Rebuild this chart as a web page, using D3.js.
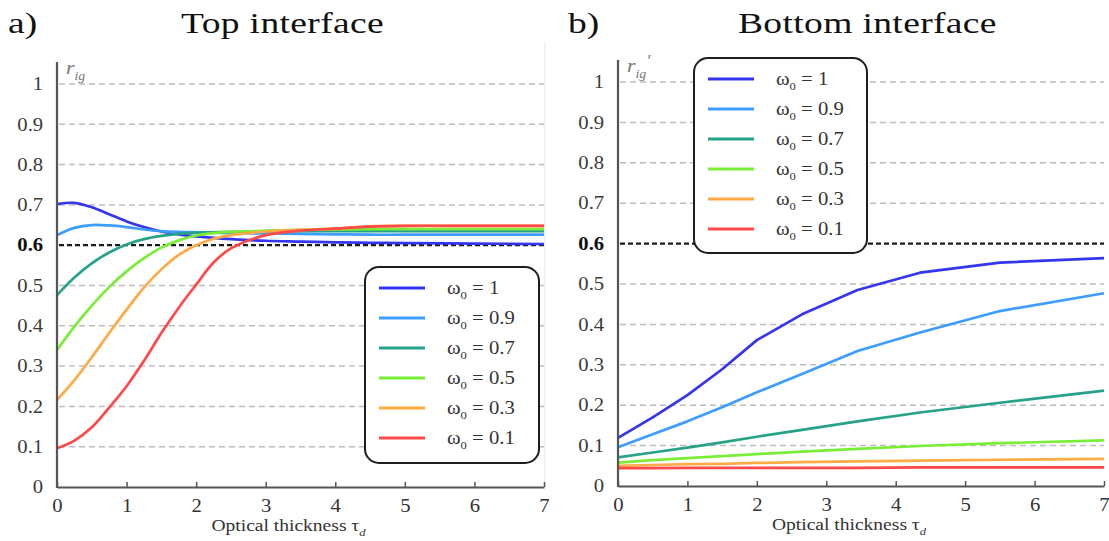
<!DOCTYPE html>
<html><head><meta charset="utf-8">
<script src="https://cdn.jsdelivr.net/npm/d3@7"></script>
<style>
body{margin:0;background:#fff}
svg{display:block}
text{font-family:"Liberation Serif","Times New Roman",serif}
</style>
</head><body>
<svg id="c" width="1109" height="541"></svg>
<script>
// ---------- DATA ----------
const seriesLabels = ["1", "0.9", "0.7", "0.5", "0.3", "0.1"];
const seriesColors = ["#3535ef", "#3d9dff", "#27a28a", "#7aee36", "#ffaa44", "#ff4848"];

const yTicks = [0, 0.1, 0.2, 0.3, 0.4, 0.5, 0.6, 0.7, 0.8, 0.9, 1];
const xTicks = [0, 1, 2, 3, 4, 5, 6, 7];

// a) Top interface
const tauTop = [0, 0.25, 0.5, 0.75, 1, 1.25, 1.5, 1.75, 2, 2.25, 2.5, 3, 3.5, 4, 4.5, 5, 6, 7];
const topW10 = [0.702, 0.705, 0.694, 0.677, 0.659, 0.645, 0.634, 0.627, 0.622, 0.618, 0.615, 0.611, 0.609, 0.607, 0.606, 0.605, 0.604, 0.603];
const topW09 = [0.625, 0.643, 0.650, 0.649, 0.645, 0.639, 0.635, 0.633, 0.632, 0.631, 0.630, 0.629, 0.628, 0.627, 0.626, 0.626, 0.626, 0.626];
const topW07 = [0.476, 0.520, 0.555, 0.582, 0.602, 0.615, 0.623, 0.628, 0.631, 0.632, 0.633, 0.634, 0.635, 0.635, 0.635, 0.635, 0.635, 0.635];
const topW05 = [0.340, 0.398, 0.450, 0.496, 0.535, 0.568, 0.594, 0.612, 0.624, 0.630, 0.633, 0.636, 0.638, 0.639, 0.640, 0.640, 0.640, 0.640];
const topW03 = [0.216, 0.265, 0.322, 0.382, 0.440, 0.495, 0.540, 0.576, 0.600, 0.616, 0.625, 0.634, 0.638, 0.641, 0.647, 0.648, 0.648, 0.648];
const topW01 = [0.096, 0.115, 0.148, 0.197, 0.250, 0.313, 0.382, 0.445, 0.502, 0.557, 0.592, 0.625, 0.636, 0.641, 0.646, 0.648, 0.648, 0.648];

// b) Bottom interface
const tauBottom = [0, 0.5, 1, 1.5, 2, 2.65, 3.45, 4.35, 5.5, 7];
const botW10 = [0.119, 0.170, 0.225, 0.289, 0.361, 0.425, 0.485, 0.528, 0.553, 0.564];
const botW09 = [0.096, 0.128, 0.160, 0.195, 0.232, 0.277, 0.334, 0.380, 0.433, 0.477];
const botW07 = [0.071, 0.083, 0.095, 0.108, 0.122, 0.139, 0.160, 0.182, 0.206, 0.236];
const botW05 = [0.058, 0.064, 0.069, 0.074, 0.079, 0.085, 0.092, 0.099, 0.106, 0.113];
const botW03 = [0.050, 0.052, 0.054, 0.055, 0.057, 0.059, 0.061, 0.063, 0.065, 0.067];
const botW01 = [0.044, 0.044, 0.045, 0.045, 0.045, 0.045, 0.045, 0.046, 0.046, 0.046];

// ---------- DRAW ----------
const svg = d3.select("#c");
svg.append("rect").attr("width", 1109).attr("height", 541).attr("fill", "#fff");

const SX = 1.15;   // horizontal stretch of small text
const TSX = 1.25;  // horizontal stretch of titles

function drawPanel(cfg) {
  const x = d3.scaleLinear().domain([0, 7]).range([cfg.left, cfg.right]);
  const y = d3.scaleLinear().domain([0, 1]).range([cfg.bottom, cfg.top1]);
  const g = svg.append("g");

  // grid lines
  g.selectAll("line.grid").data(yTicks.filter(d => d > 0)).join("line")
    .attr("x1", x(0) + 2).attr("x2", x(7))
    .attr("y1", d => y(d)).attr("y2", d => y(d))
    .attr("stroke", d => Math.abs(d - 0.6) < 1e-9 ? "#1a1a1a" : "#bdbdbd")
    .attr("stroke-width", d => Math.abs(d - 0.6) < 1e-9 ? 2.2 : 1.5)
    .attr("stroke-dasharray", d => Math.abs(d - 0.6) < 1e-9 ? "5,3" : "6,4");

  if (cfg.rightBorder) {
    g.append("line").attr("x1", x(7) + 1).attr("x2", x(7) + 1)
      .attr("y1", y(0)).attr("y2", cfg.axisTop - 20)
      .attr("stroke", "#eeeeee").attr("stroke-width", 1.5);
  }

  // curves
  const line = d3.line().x(d => x(d[0])).y(d => y(d[1])).curve(cfg.curve);
  cfg.series.forEach((vals, i) => {
    const pts = cfg.tau.map((t, j) => [t, vals[j]]);
    g.append("path").datum(pts).attr("d", line)
      .attr("fill", "none").attr("stroke", seriesColors[i])
      .attr("stroke-width", 2.7).attr("stroke-linejoin", "round");
  });

  // legend
  const L = cfg.legend;
  g.append("rect").attr("x", L.x).attr("y", L.y).attr("width", L.w).attr("height", L.h)
    .attr("rx", 14).attr("ry", 14).attr("fill", "#fff")
    .attr("stroke", "#1e1e1e").attr("stroke-width", 2);
  seriesLabels.forEach((lab, i) => {
    const ly = L.y + 21 + i * 30;
    g.append("line").attr("x1", L.x + 14).attr("x2", L.x + 60)
      .attr("y1", ly).attr("y2", ly)
      .attr("stroke", seriesColors[i]).attr("stroke-width", 3);
    const t = g.append("text")
      .attr("transform", `translate(${L.x + 82},${ly + 6}) scale(${SX},1)`)
      .attr("font-size", 18).attr("fill", "#333");
    t.append("tspan").text("ω");
    t.append("tspan").attr("dy", 5).attr("font-size", 11).text("0");
    t.append("tspan").attr("dy", -5).text(" = " + lab);
  });

  // x axis
  const xa = g.append("g").attr("transform", `translate(0,${y(0)})`)
    .call(d3.axisBottom(x).tickValues(xTicks).tickSizeInner(-5).tickSizeOuter(0)
      .tickPadding(12).tickFormat(d3.format("d")));
  xa.select(".domain").attr("stroke", "#555").attr("stroke-width", 2.2);
  xa.selectAll(".tick line").attr("stroke", "#555").attr("stroke-width", 1.5);
  xa.selectAll(".tick text").attr("font-size", 18).attr("fill", "#333")
    .attr("font-family", "Liberation Serif").attr("transform", `scale(${SX},1)`);

  // y axis
  const ya = g.append("g").attr("transform", `translate(${x(0)},0)`)
    .call(d3.axisLeft(y).tickValues(yTicks).tickSize(0).tickPadding(12)
      .tickFormat(d3.format("~g")));
  ya.select(".domain").remove();
  ya.selectAll(".tick text").attr("font-size", 18)
    .attr("font-family", "Liberation Serif")
    .attr("fill", d => Math.abs(d - 0.6) < 1e-9 ? "#111" : "#3a3a3a")
    .attr("font-weight", d => Math.abs(d - 0.6) < 1e-9 ? "bold" : "normal")
    .attr("transform", `scale(${SX},1)`);
  g.append("line").attr("x1", x(0)).attr("x2", x(0))
    .attr("y1", y(0) + 1).attr("y2", cfg.axisTop)
    .attr("stroke", "#555").attr("stroke-width", 2.2);

  // y label
  const yl = g.append("text")
    .attr("transform", `translate(${x(0) + 9},${cfg.axisTop + 12}) scale(${SX},1)`)
    .attr("font-size", 19).attr("font-style", "italic").attr("fill", "#777");
  yl.append("tspan").text("r");
  yl.append("tspan").attr("dy", 6).attr("font-size", 12).text("ig");
  if (cfg.prime) yl.append("tspan").attr("dy", -12).attr("font-size", 16).text("′");

  // x label
  const xl = g.append("text")
    .attr("transform", `translate(${(x(0) + x(7)) / 2 - 12},${y(0) + 44}) scale(${SX},1)`)
    .attr("text-anchor", "middle").attr("font-size", 17).attr("fill", "#333");
  xl.append("tspan").text("Optical thickness τ");
  xl.append("tspan").attr("dy", 5).attr("font-size", 11).attr("font-style", "italic").text("d");

  // titles
  svg.append("text").attr("transform", `translate(${cfg.letterX},33) scale(${TSX},1)`)
    .attr("font-size", 30).attr("fill", "#111").text(cfg.letter);
  svg.append("text").attr("transform", `translate(${cfg.titleX},33) scale(${TSX},1)`)
    .attr("font-size", 30).attr("fill", "#111").attr("letter-spacing", 0.3)
    .text(cfg.title);
}

drawPanel({
  left: 57, right: 544, bottom: 487, top1: 84, axisTop: 62,
  tau: tauTop, series: [topW10, topW09, topW07, topW05, topW03, topW01],
  curve: d3.curveCatmullRom.alpha(0.5),
  legend: { x: 365, y: 267, w: 174, h: 196 },
  letter: "a)", letterX: 8, title: "Top interface", titleX: 181, prime: false, rightBorder: true
});
drawPanel({
  left: 618, right: 1104, bottom: 486, top1: 82, axisTop: 60,
  tau: tauBottom, series: [botW10, botW09, botW07, botW05, botW03, botW01],
  curve: d3.curveLinear,
  legend: { x: 694, y: 58, w: 173, h: 195 },
  letter: "b)", letterX: 568, title: "Bottom interface", titleX: 738, prime: true, rightBorder: false
});
</script>
</body></html>
